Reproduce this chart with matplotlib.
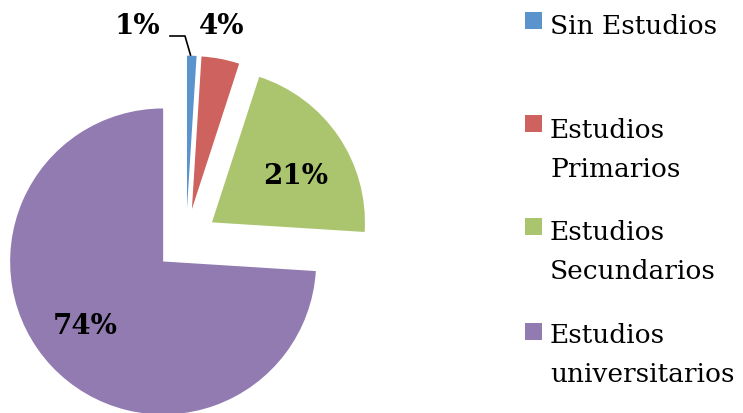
import matplotlib
matplotlib.use("Agg")
import matplotlib.pyplot as plt
from matplotlib.patches import Rectangle

categories = ["Sin Estudios", "Estudios Primarios", "Estudios Secundarios", "Estudios universitarios"]
legend_labels = ["Sin Estudios", "Estudios\nPrimarios", "Estudios\nSecundarios", "Estudios\nuniversitarios"]
values = [1, 4, 21, 74]
colors = ["#5B93CD", "#CD625E", "#ABC46E", "#927BB1"]

W, H = 743, 413
fig = plt.figure(figsize=(W / 100, H / 100), dpi=100)
ax = fig.add_axes([0, 0, 1, 1])

R = 153.0            # pie radius in pixels
cx, cy = 186.0, H - 240.0   # pie centre in pixels

FONT = "DejaVu Serif"
wedges, texts, autotexts = ax.pie(
    values, colors=colors, startangle=90, counterclock=False,
    explode=[0.205] * len(values), radius=1,
    autopct=lambda p: f"{p:.0f}%", pctdistance=0.63,
    wedgeprops=dict(linewidth=0),
    textprops=dict(fontfamily=FONT, fontweight="bold", fontsize=20, color="black"),
)
ax.set_xlim(-cx / R, (W - cx) / R)
ax.set_ylim(-cy / R, (H - cy) / R)
ax.set_aspect("equal")
ax.axis("off")

def px(x, y):
    return ((x - cx) / R, (H - y - cy) / R)

# label positions (pixels of the reference)
label_pos = [(137, 27), (222, 27), (296, 176), (85, 326)]
for t, (lx, ly) in zip(autotexts, label_pos):
    t.set_position(px(lx, ly))
    t.set_ha("center")
    t.set_va("center")

# leader line for the 1% label
pts = [px(170, 36), px(185, 36), px(190.5, 55)]
ax.plot([p[0] for p in pts], [p[1] for p in pts], color="black", lw=1.2)

# legend drawn manually
box_tops = [12, 115, 218, 323]
baselines = [34, 138, 240, 343]
step = 39
for lab, col, bt, bl in zip(legend_labels, colors, box_tops, baselines):
    fig.patches.append(Rectangle((525 / W, 1 - (bt + 17) / H), 17 / W, 17 / H,
                                 transform=fig.transFigure, facecolor=col, edgecolor="none"))
    for i, line in enumerate(lab.split("\n")):
        fig.text(550 / W, 1 - (bl + i * step) / H, line, fontfamily=FONT, fontsize=19,
                 ha="left", va="baseline")

fig.savefig("out.png", dpi=100)
